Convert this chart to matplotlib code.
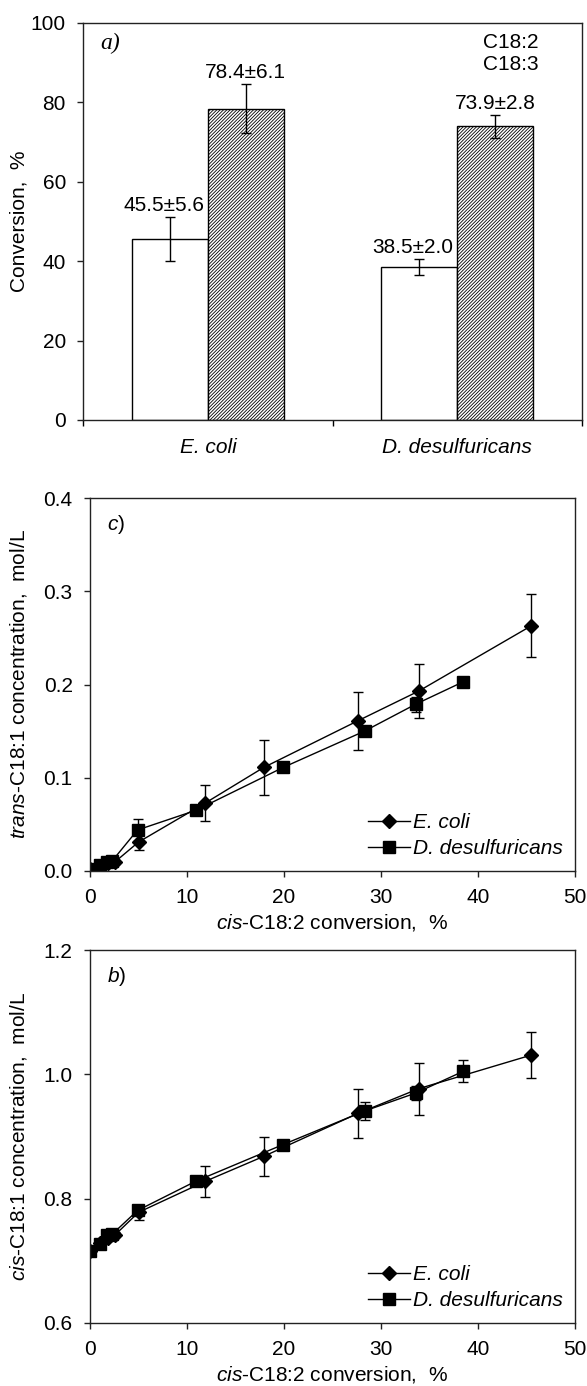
import matplotlib
matplotlib.use("Agg")
import matplotlib.pyplot as plt
from matplotlib.lines import Line2D

plt.rcParams['font.family'] = ['Liberation Sans', 'DejaVu Sans']
plt.rcParams['mathtext.fontset'] = 'custom'
plt.rcParams['mathtext.it'] = 'Liberation Sans:italic'
plt.rcParams['mathtext.rm'] = 'Liberation Sans'
plt.rcParams['hatch.linewidth'] = 0.6
plt.rcParams['hatch.color'] = '#333333'
plt.rcParams['font.size'] = 15

# Панель a: конверсия кислот
strains = ["E. coli", "D. desulfuricans"]
c182_conv = [45.5, 38.5]
c182_err = [5.6, 2.0]
c183_conv = [78.4, 73.9]
c183_err = [6.1, 2.8]

# Панели c и b: концентрации от конверсии cis-C18:2
ecoli_x = [0, 1.0, 1.9, 2.6, 5.0, 11.9, 17.9, 27.6, 33.9, 45.5]
ecoli_trans = [0.002, 0.005, 0.009, 0.010, 0.031, 0.073, 0.111, 0.161, 0.193, 0.263]
ecoli_trans_err = [0.001, 0.001, 0.002, 0.002, 0.009, 0.019, 0.029, 0.031, 0.029, 0.034]
ecoli_cis = [0.716, 0.728, 0.737, 0.742, 0.778, 0.828, 0.868, 0.937, 0.977, 1.031]
ecoli_cis_err = [0.003, 0.003, 0.004, 0.004, 0.012, 0.025, 0.032, 0.040, 0.042, 0.037]

dd_x = [0, 1.0, 1.8, 2.3, 4.9, 10.9, 19.9, 28.3, 33.6, 38.5]
dd_trans = [0.002, 0.006, 0.010, 0.011, 0.044, 0.065, 0.111, 0.150, 0.179, 0.203]
dd_trans_err = [0.001, 0.001, 0.002, 0.002, 0.012, 0.003, 0.003, 0.005, 0.008, 0.004]
dd_cis = [0.716, 0.727, 0.741, 0.743, 0.781, 0.828, 0.887, 0.941, 0.970, 1.005]
dd_cis_err = [0.003, 0.003, 0.004, 0.004, 0.008, 0.005, 0.005, 0.015, 0.012, 0.018]

W, H = 587, 1386
fig = plt.figure(figsize=(W / 100, H / 100), dpi=100)


def box(left, right, top, bottom):
    return [left / W, 1 - bottom / H, (right - left) / W, (bottom - top) / H]


def style_axes(ax):
    for s in ax.spines.values():
        s.set_linewidth(1.0)
        s.set_color('#222222')
    ax.tick_params(direction='out', length=4.5, width=1.0, color='#222222')
    ax.tick_params(axis='y', pad=8)


# ---------- a) ----------
ax = fig.add_axes(box(83.3, 581.7, 22.7, 420))
style_axes(ax)
pos = [0, 1]
w = 0.304
ax.bar([p - w / 2 for p in pos], c182_conv, width=w, color='white',
       edgecolor='black', linewidth=1.0)
ax.bar([p + w / 2 for p in pos], c183_conv, width=w, color='white',
       edgecolor='black', linewidth=1.0, hatch='//////////')
ax.errorbar([p - w / 2 for p in pos], c182_conv, yerr=c182_err, fmt='none',
            ecolor='black', elinewidth=1.0, capsize=3.5, capthick=1.0)
ax.errorbar([p + w / 2 for p in pos], c183_conv, yerr=c183_err, fmt='none',
            ecolor='black', elinewidth=1.0, capsize=3.5, capthick=1.0)
for p, v, e in zip(pos, c182_conv, c182_err):
    ax.text(p - w / 2 - 0.025, v + e + 1.5, f"{v:.1f}±{e:.1f}",
            ha='center', va='baseline')
for p, v, e in zip(pos, c183_conv, c183_err):
    ax.text(p + w / 2, v + e + 1.5, f"{v:.1f}±{e:.1f}", ha='center', va='baseline')

ax.set_xlim(-0.5, 1.5)
ax.set_ylim(0, 100)
ax.set_yticks(range(0, 101, 20))
ax.set_xticks(pos)
ax.set_xticklabels(strains, style='italic')
ax.set_xticks([-0.5, 0.5, 1.5], minor=True)
ax.tick_params(axis='x', which='major', length=0, pad=13)
ax.tick_params(axis='x', which='minor', direction='out', length=4.5, width=1.0)
ax.set_ylabel("Conversion,  %")
ax.yaxis.set_label_coords(-0.109, 0.5)
ax.text(0.034, 0.949, "a)", transform=ax.transAxes, ha='left', va='center',
        family='Liberation Serif', style='italic', fontsize=17)
ax.text(0.913, 0.951, "C18:2", transform=ax.transAxes, ha='right', va='center')
ax.text(0.913, 0.894, "C18:3", transform=ax.transAxes, ha='right', va='center')


def conc_panel(rect, ye, ye_err, yd, yd_err, ylim, yticks, ylabel, tag):
    ax = fig.add_axes(rect)
    style_axes(ax)
    ax.tick_params(axis='x', pad=8)
    ax.errorbar(ecoli_x, ye, yerr=ye_err, color='black', lw=1.0, marker='D',
                ms=7, elinewidth=1.0, capsize=3.5, capthick=1.0)
    ax.errorbar(dd_x, yd, yerr=yd_err, color='black', lw=1.0, marker='s',
                ms=8.5, elinewidth=1.0, capsize=3.5, capthick=1.0)
    ax.set_xlim(0, 50)
    ax.set_ylim(*ylim)
    ax.set_xticks(range(0, 51, 10))
    ax.set_yticks(yticks)
    ax.set_yticklabels([f"{t:.1f}" for t in yticks])
    ax.set_xlabel(r"$\it{cis}$-C18:2 conversion,  %", labelpad=3)
    ax.set_ylabel(ylabel)
    ax.yaxis.set_label_coords(-0.126, 0.5)
    ax.text(0.035, 0.93, r"$\it{" + tag + "}$)", transform=ax.transAxes,
            ha='left', va='center')
    handles = [Line2D([], [], color='black', lw=1.0, marker='D', ms=7),
               Line2D([], [], color='black', lw=1.0, marker='s', ms=8.5)]
    ax.legend(handles, ["E. coli", "D. desulfuricans"], loc='lower right',
              frameon=False, handlelength=2.0, handletextpad=0.15,
              borderaxespad=0.2, labelspacing=0.35,
              prop={'style': 'italic', 'size': 15})
    return ax


conc_panel(box(90, 575, 498, 871), ecoli_trans, ecoli_trans_err, dd_trans,
           dd_trans_err, (0, 0.4), [0.0, 0.1, 0.2, 0.3, 0.4],
           r"$\it{trans}$-C18:1 concentration,  mol/L", "c")
conc_panel(box(90, 575, 950, 1323), ecoli_cis, ecoli_cis_err, dd_cis,
           dd_cis_err, (0.6, 1.2), [0.6, 0.8, 1.0, 1.2],
           r"$\it{cis}$-C18:1 concentration,  mol/L", "b")

fig.savefig("out.png", dpi=100)
